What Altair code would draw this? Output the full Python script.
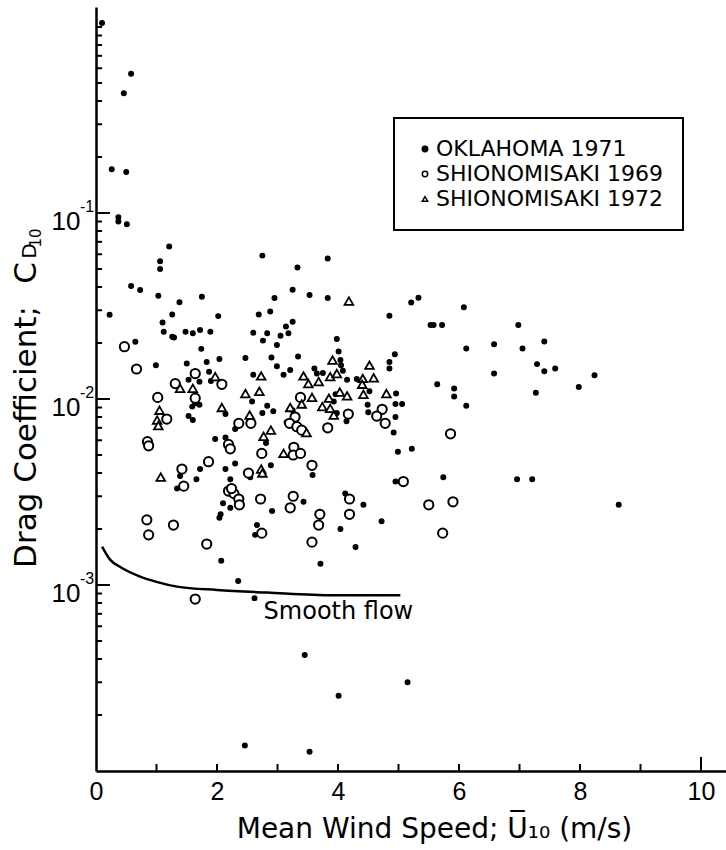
import altair as alt
import pandas as pd

# ---------------- data ----------------
series_names = ["OKLAHOMA 1971", "SHIONOMISAKI 1969", "SHIONOMISAKI 1972"]

ok_x = [0.10, 0.58, 0.46, 0.26, 0.50, 0.37, 0.37, 0.51, 1.21, 1.06,
        1.06, 2.75, 3.33, 3.83, 0.58, 0.73, 1.03, 1.75, 2.95, 3.25,
        3.53, 3.83, 1.38, 0.225, 1.26, 1.10, 2.02, 2.69, 2.88, 3.25,
        3.14, 1.12, 1.26, 1.29, 1.48, 1.60, 1.72, 1.89, 2.60, 2.83,
        3.05, 3.18, 2.76, 2.99, 3.98, 0.65, 1.74, 4.01, 2.47, 2.04,
        2.90, 3.34, 4.04, 4.05, 0.99, 1.50, 1.83, 1.87, 2.99, 3.21,
        3.61, 3.65, 4.08, 2.60, 3.10, 3.75, 1.53, 1.71, 1.90, 4.15,
        4.31, 1.64, 3.93, 3.96, 2.58, 1.59, 1.71, 2.83, 2.93, 2.75,
        3.25, 1.53, 1.60, 2.14, 3.98, 4.14, 3.15, 2.30, 2.14, 1.97,
        2.81, 2.30, 1.72, 2.14, 2.89, 3.58, 1.66, 2.55, 1.34, 2.22,
        2.10, 2.22, 2.91, 3.43, 4.12, 2.04, 2.06, 2.66, 2.63, 4.04,
        4.29, 2.07, 3.71, 2.35, 2.62, 3.45, 4.01, 2.46, 3.53, 5.15,
        5.21, 5.33, 6.08, 4.85, 5.53, 5.58, 5.72, 6.98, 6.12, 6.58,
        7.05, 7.41, 4.94, 4.85, 4.85, 6.58, 7.29, 7.41, 7.59, 8.24,
        7.98, 7.27, 5.64, 5.92, 5.92, 6.12, 4.52, 4.96, 4.49, 4.50,
        4.95, 5.06, 4.95, 4.92, 4.99, 5.22, 4.95, 5.74, 6.96, 7.21,
        8.64, 4.42, 4.72, 1.39]
ok_y = [1.05, 0.56, 0.44, 0.172, 0.166, 0.095, 0.090, 0.087, 0.066, 0.055,
        0.050, 0.059, 0.051, 0.057, 0.0405, 0.0385, 0.0359, 0.0355, 0.0349, 0.0387,
        0.0362, 0.0349, 0.0331, 0.0284, 0.0285, 0.0258, 0.0279, 0.0285, 0.0295, 0.026,
        0.0245, 0.023, 0.0216, 0.0214, 0.023, 0.0226, 0.0235, 0.023, 0.0227, 0.0226,
        0.0219, 0.0226, 0.0206, 0.0195, 0.021, 0.0203, 0.0186, 0.018, 0.0166, 0.0164,
        0.0167, 0.0169, 0.0162, 0.0152, 0.0152, 0.0155, 0.0158, 0.014, 0.015, 0.0143,
        0.0146, 0.0137, 0.0142, 0.0135, 0.0135, 0.0138, 0.0127, 0.0124, 0.0125, 0.0127,
        0.0128, 0.0095, 0.0097, 0.0106, 0.0097, 0.0091, 0.0093, 0.0092, 0.0086, 0.0084,
        0.0087, 0.0081, 0.0077, 0.0083, 0.0084, 0.0076, 0.0075, 0.0069, 0.0062, 0.0061,
        0.0058, 0.0045, 0.0042, 0.0042, 0.0044, 0.0039, 0.0037, 0.0038, 0.0033, 0.0037,
        0.00275, 0.0026, 0.0025, 0.0028, 0.0031, 0.0023, 0.0024, 0.0021, 0.00186, 0.0020,
        0.0016, 0.00135, 0.0013, 0.00105, 0.00085, 0.00042, 0.000254, 0.000137, 0.000127, 0.0003,
        0.033, 0.035, 0.0311, 0.028, 0.025, 0.025, 0.025, 0.025, 0.0187, 0.0197,
        0.0187, 0.0204, 0.0174, 0.0158, 0.0146, 0.0137, 0.0154, 0.0141, 0.0146, 0.0134,
        0.0116, 0.0108, 0.0120, 0.0114, 0.0103, 0.0092, 0.011, 0.0107, 0.0093, 0.0085,
        0.0094, 0.0094, 0.0080, 0.0066, 0.0052, 0.0054, 0.0036, 0.0038, 0.0037, 0.0037,
        0.0027, 0.0027, 0.0022, 0.00385]

s69_x = [0.47, 0.67, 1.64, 2.08, 1.31, 1.64, 1.02, 3.38, 1.17, 3.29,
         4.17, 2.36, 2.56, 3.20, 3.32, 3.40, 3.83, 0.85, 0.87, 2.19,
         2.22, 2.74, 3.27, 3.26, 3.38, 1.86, 1.42, 2.52, 3.57, 1.45,
         2.19, 2.28, 2.36, 2.37, 2.72, 3.26, 3.21, 4.19, 4.19, 3.70,
         3.68, 0.84, 0.87, 1.28, 2.74, 1.83, 3.57, 1.64, 4.73, 4.64,
         4.78, 5.86, 5.08, 5.50, 5.90, 5.73, 2.24]
s69_y = [0.0191, 0.0145, 0.0137, 0.012, 0.0121, 0.0101, 0.0102, 0.0102, 0.0078, 0.008,
         0.0083, 0.0074, 0.0074, 0.0074, 0.0071, 0.0068, 0.007, 0.0059, 0.0056, 0.0057,
         0.0054, 0.0051, 0.0055, 0.005, 0.0051, 0.0046, 0.0042, 0.004, 0.0044, 0.0034,
         0.0032, 0.0031, 0.0029, 0.0027, 0.0029, 0.003, 0.0026, 0.0029, 0.0024, 0.0024,
         0.0021, 0.00224, 0.00186, 0.0021, 0.0019, 0.00166, 0.0017, 0.00084, 0.0088, 0.0081,
         0.0074, 0.0065, 0.0036, 0.0027, 0.0028, 0.0019, 0.0033]

s72_x = [4.18, 3.91, 1.97, 2.73, 3.43, 3.87, 3.98, 1.39, 1.60, 3.51,
         3.68, 2.47, 2.70, 3.57, 3.85, 4.03, 4.15, 2.08, 3.21, 3.74,
         3.87, 1.05, 1.01, 1.03, 2.54, 3.93, 2.89, 3.48, 2.77, 3.10,
         2.73, 2.75, 1.07, 4.52, 4.41, 4.59, 4.42, 4.80, 4.40, 3.40]
s72_y = [0.0336, 0.0162, 0.0132, 0.0133, 0.0133, 0.0132, 0.0137, 0.0114, 0.0114, 0.0121,
         0.0124, 0.0107, 0.0110, 0.0102, 0.0101, 0.0109, 0.0104, 0.0090, 0.0090, 0.0091,
         0.0089, 0.0087, 0.0077, 0.0072, 0.0082, 0.0082, 0.0068, 0.0066, 0.0063, 0.0051,
         0.0042, 0.0040, 0.0038, 0.0152, 0.0129, 0.0130, 0.0106, 0.0107, 0.0120, 0.0094]

smooth_x = [0.10, 0.24, 0.40, 0.73, 1.00, 1.34, 2.00, 2.83, 3.92, 4.37, 5.03]
smooth_y = [0.00161, 0.00136, 0.00125, 0.00111, 0.00104, 0.00098, 0.00094,
            0.00091, 0.00088, 0.00088, 0.00088]

annot_x = [2.77]
annot_y = [0.00072]
annot_t = ["Smooth flow"]

x_label_values = [0, 2, 4, 6, 8, 10]
y_label_values = [0.1, 0.01, 0.001]
y_label_exps = ["-1", "-2", "-3"]

# inward tick marks (tick position + inner end, in axis units)
x_tick_pos = [1, 2, 3, 4, 5, 6, 7, 8, 9, 10]
x_tick_base = [1e-4] * 10
x_tick_end = [1.09e-4] * 9 + [1.19e-4]
y_tick_pos = ([m * 10.0 ** e for e in (-4, -3, -2, -1) for m in range(2, 10)]
              + [1.0, 0.1, 0.01, 0.001])
y_tick_base = [0.0] * len(y_tick_pos)
y_tick_end = [0.1] * 33 + [0.23] * 3

y_title_main = ["Drag Coefficient;"]
y_title_c = ["C"]
y_title_d = ["D"]
y_title_10 = ["10"]

# ---------------- tables ----------------
pts = pd.concat([
    pd.DataFrame({"u": ok_x, "cd": ok_y, "series": series_names[0]}),
    pd.DataFrame({"u": s69_x, "cd": s69_y, "series": series_names[1]}),
    pd.DataFrame({"u": s72_x, "cd": s72_y, "series": series_names[2]}),
], ignore_index=True)
smooth_df = pd.DataFrame({"u": smooth_x, "cd": smooth_y})
annot_df = pd.DataFrame({"u": annot_x, "cd": annot_y, "t": annot_t})
xt_df = pd.DataFrame({"u": x_tick_pos, "cd": x_tick_base, "cd2": x_tick_end})
yt_df = pd.DataFrame({"cd": y_tick_pos, "u": y_tick_base, "u2": y_tick_end})
exp_df = pd.DataFrame({"cd": y_label_values, "t": y_label_exps})

FONT = "DejaVu Sans"
NUMFONT = "Liberation Sans"
W, H = 630, 764

x_scale = alt.Scale(domain=[0, 10.413], nice=False, zero=False)
y_scale = alt.Scale(type="log", domain=[1e-4, 1.281], nice=False)

x_axis = alt.Axis(values=x_label_values, format="d", ticks=False, grid=False,
                  domainColor="black", domainWidth=2.5,
                  labelFont=NUMFONT, labelFontSize=25, labelColor="black",
                  labelPadding=8, labelFlush=False,
                  title="Mean Wind Speed;  U\u0305\u2081\u2080  (m/s)",
                  titleFont=FONT, titleFontSize=28, titleFontWeight="normal",
                  titleColor="black", titleX=338, titleY=66,
                  titleBaseline="alphabetic", titleAlign="center")
y_axis = alt.Axis(values=y_label_values, labelExpr="'10'", ticks=False, grid=False,
                  domainColor="black", domainWidth=2.5,
                  labelFont=NUMFONT, labelFontSize=26, labelColor="black",
                  labelPadding=16, labelOffset=8, title="")

X = alt.X("u:Q", scale=x_scale, axis=x_axis)
Y = alt.Y("cd:Q", scale=y_scale, axis=y_axis)

legend = alt.Legend(title=None, orient="none", legendX=298, legendY=111,
                    strokeColor="black", padding=20, labelFont=FONT,
                    labelFontSize=22, labelColor="black", labelLimit=400,
                    symbolSize=30, symbolStrokeWidth=1.5,
                    rowPadding=3, labelOffset=0)

shape_enc = alt.Shape("series:N", scale=alt.Scale(domain=series_names,
                      range=["circle", "circle", "triangle-up"]),
                      legend=legend, title=None)
fill_enc = alt.Fill("series:N", scale=alt.Scale(domain=series_names,
                    range=["black", "white", "white"]), legend=legend, title=None)
stroke_enc = alt.Stroke("series:N", scale=alt.Scale(domain=series_names,
                        range=["black", "black", "black"]), legend=legend, title=None)


def pt_layer(name, size, sw):
    return alt.Chart(pts).transform_filter(
        alt.datum.series == name
    ).mark_point(filled=True, strokeWidth=sw, opacity=1, size=size).encode(
        x=X, y=Y, shape=shape_enc, fill=fill_enc, stroke=stroke_enc)


p_ok = pt_layer(series_names[0], 22, 1.3)
p_69 = pt_layer(series_names[1], 85, 2.0)
p_72 = pt_layer(series_names[2], 75, 1.8)

smooth = alt.Chart(smooth_df).mark_line(color="black", strokeWidth=2.5,
                                        interpolate="monotone").encode(x=X, y=Y)

annot = alt.Chart(annot_df).mark_text(align="left", baseline="middle", font=FONT,
                                      fontSize=24, color="black").encode(
    x=X, y=Y, text="t:N")

x_ticks = alt.Chart(xt_df).mark_rule(color="black", strokeWidth=2).encode(
    x=X, y=Y, y2="cd2:Q")
y_ticks = alt.Chart(yt_df).mark_rule(color="black", strokeWidth=2).encode(
    y=Y, x=X, x2="u2:Q")

exps = alt.Chart(exp_df).mark_text(align="left", baseline="middle", dy=-6,
                                   font=NUMFONT, fontSize=16, color="black").encode(
    y=Y, x=alt.value(-16), text="t:N")


def title_piece(vals, px, py, size):
    return alt.Chart(pd.DataFrame({"t": vals})).mark_text(
        angle=270, align="center", baseline="middle", font=FONT,
        fontSize=size, color="black").encode(
        x=alt.value(px), y=alt.value(py), text="t:N")


t_main = title_piece(y_title_main, -69, 430, 31)
t_c = title_piece(y_title_c, -69, 266, 31)
t_d = title_piece(y_title_d, -66, 244, 20)
t_10 = title_piece(y_title_10, -60, 231, 15)

chart = alt.layer(
    p_ok, p_69, p_72, smooth, x_ticks, y_ticks,
    annot, exps, t_main, t_c, t_d, t_10,
).properties(
    width=W, height=H,
    padding={"left": 96, "top": 7, "right": 0, "bottom": 79},
    autosize=alt.AutoSizeParams(type="none"),
    background="white",
).configure_view(stroke=None).configure_legend(strokeWidth=2)

chart.save("out.html", embed_options={"renderer": "svg", "actions": False})
